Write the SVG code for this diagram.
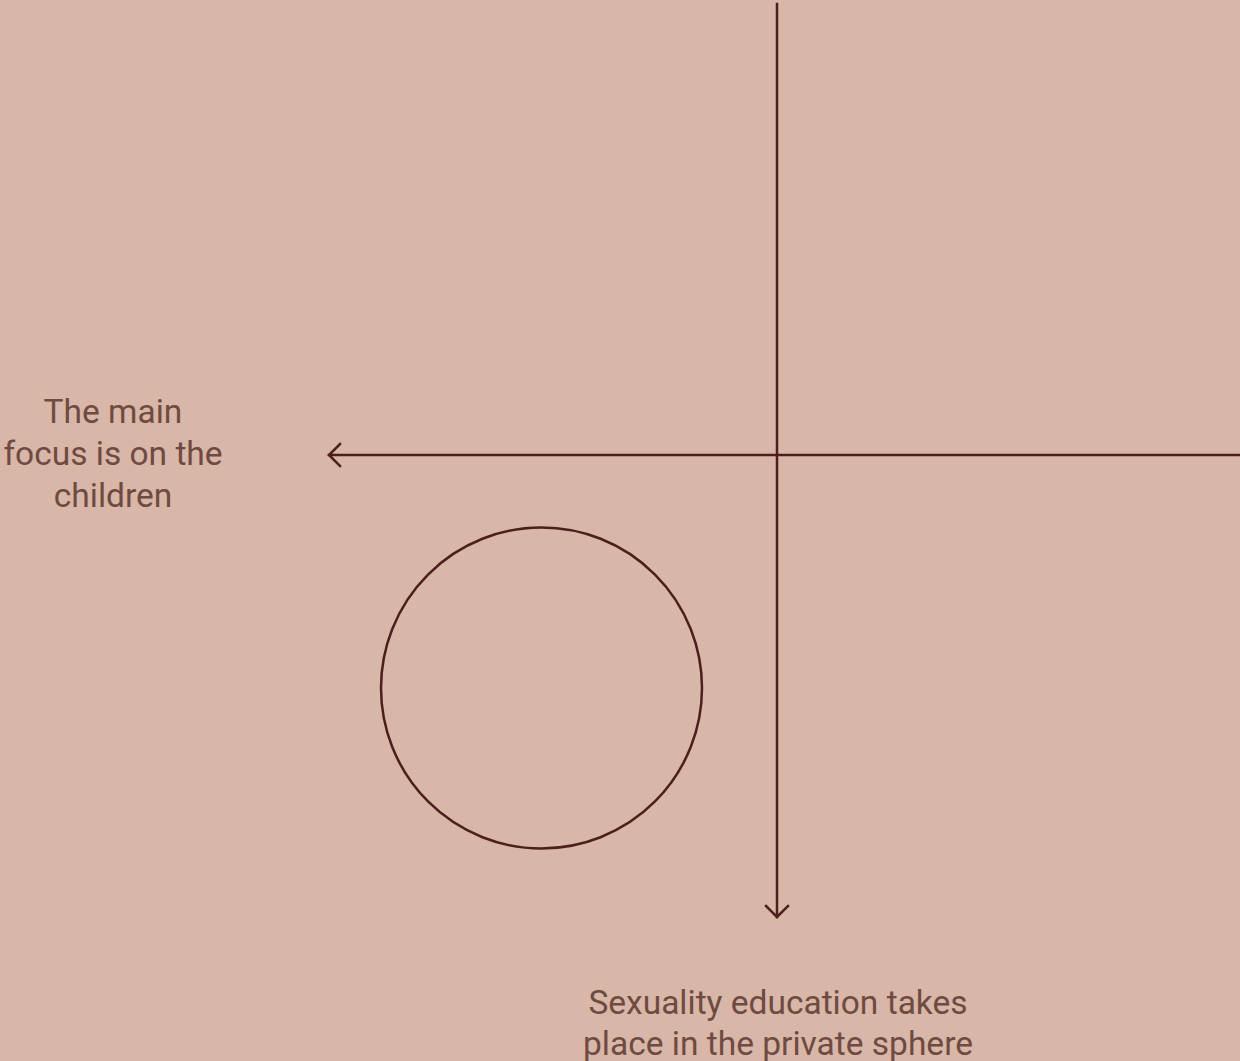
<svg xmlns="http://www.w3.org/2000/svg" width="1240" height="1061" viewBox="0 0 1240 1061">
<style>
.ax{stroke:#4b1f1b;stroke-width:2.5;fill:none;stroke-linecap:square}
.lbl{font-family:Roboto,"Liberation Sans",sans-serif;font-size:33.5px;fill:#6f4a41;text-anchor:middle}
</style>
<rect width="1240" height="1061" fill="#d8b6a8"/>
<g id="connectors">
<path class="ax" d="M777,4 V917"/>
<path class="ax" d="M766,906 L777,917 L788,906"/>
<path class="ax" d="M1240,455 H329"/>
<path class="ax" d="M340,444 L329,455 L340,466"/>
</g>
<g id="circle">
<circle cx="541.5" cy="688" r="160.5" fill="none" stroke="#4b1f1b" stroke-width="2.5"/>
</g>
<g id="label-left">
<text class="lbl" x="113" y="423">The main</text>
<text class="lbl" x="113" y="465">focus is on the</text>
<text class="lbl" x="113" y="507">children</text>
</g>
<g id="label-bottom">
<text class="lbl" x="778" y="1014">Sexuality education takes</text>
<text class="lbl" x="778" y="1055">place in the private sphere</text>
</g>
</svg>
